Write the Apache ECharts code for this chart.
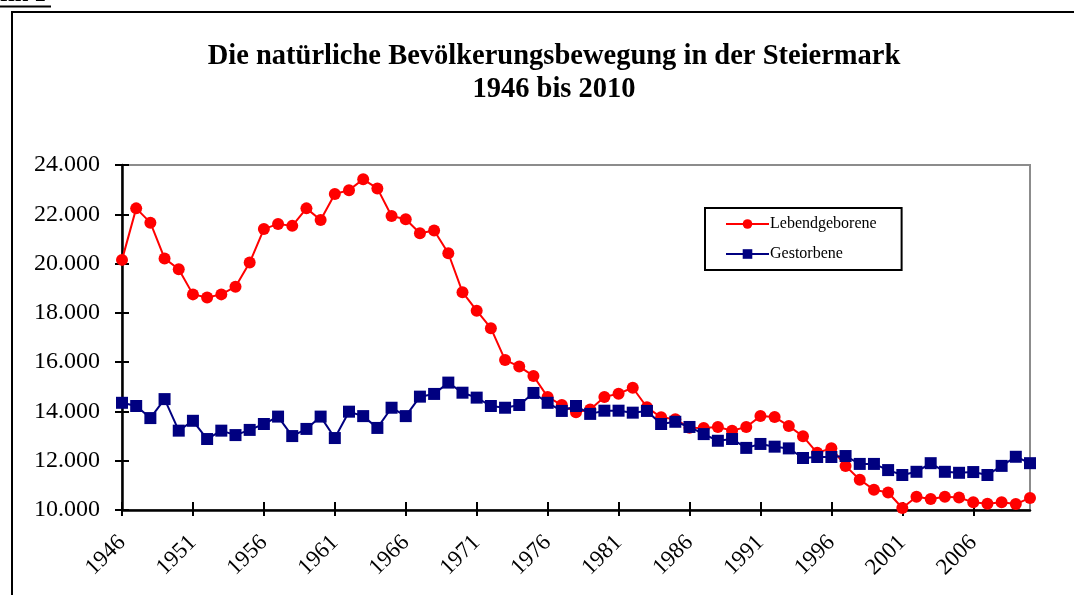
<!DOCTYPE html>
<html>
<head>
<meta charset="utf-8">
<script src="https://cdn.jsdelivr.net/npm/echarts@6/dist/echarts.min.js"></script>
<style>
html,body{margin:0;padding:0;background:#fff;}
#chart{width:1074px;height:595px;}
</style>
</head>
<body>
<div id="chart"></div>
<script>
var years = [];
for (var y = 1946; y <= 2010; y++) years.push(String(y));

var lebendgeborene = [
  20150, 22240, 21660, 20210, 19770, 18750, 18620, 18750, 19060, 20040,
  21400, 21610, 21530, 22240, 21770, 22820, 22980, 23420, 23050, 21930,
  21800, 21230, 21340, 20420, 18840, 18090, 17380, 16090, 15820, 15440,
  14590, 14260, 13970, 14080, 14590, 14720, 14960, 14170, 13760, 13680,
  13340, 13330, 13370, 13220, 13370, 13810, 13770, 13410, 12990, 12320,
  12510, 11790, 11230, 10820, 10710, 10080, 10540, 10450, 10540, 10510,
  10310, 10250, 10310, 10240, 10490
];

var gestorbene = [
  14350, 14220, 13730, 14500, 13220, 13620, 12880, 13220, 13040, 13250,
  13490, 13790, 13000, 13290, 13790, 12920, 13990, 13810, 13330, 14150,
  13810, 14600, 14710, 15170, 14760, 14560, 14220, 14150, 14260, 14750,
  14350, 14020, 14220, 13900, 14030, 14030, 13950, 14020, 13490, 13580,
  13370, 13080, 12810, 12880, 12520, 12680, 12570, 12500, 12110, 12150,
  12150, 12190, 11870, 11870, 11620, 11420, 11550, 11900, 11550, 11510,
  11540, 11420, 11790, 12160, 11900
];

var seriesNames = ['Lebendgeborene', 'Gestorbene'];
var titleLines = ['Die natürliche Bevölkerungsbewegung in der Steiermark', '1946 bis 2010'];

var serif = '"Liberation Serif", "DejaVu Serif", serif';
var chart = echarts.init(document.getElementById('chart'));

var option = {
  backgroundColor: '#ffffff',
  animation: false,
  title: {
    text: titleLines.join('\n'),
    left: 549,
    textAlign: 'center',
    top: 35,
    textStyle: {
      fontFamily: serif,
      fontWeight: 'bold',
      fontSize: 28.5,
      lineHeight: 33,
      color: '#000'
    }
  },
  graphic: [
    {
      type: 'rect',
      shape: { x: 12, y: 12, width: 1200, height: 800 },
      style: { fill: 'none', stroke: '#000', lineWidth: 2 },
      z: 0, silent: true
    },
    {
      type: 'text',
      x: 46, y: 7,
      style: {
        text: 'Grafik 1',
        font: 'bold 24px ' + serif,
        fill: '#000',
        textAlign: 'right',
        textVerticalAlign: 'bottom'
      }
    },
    {
      type: 'line',
      shape: { x1: 0, y1: 6.5, x2: 51, y2: 6.5 },
      style: { stroke: '#000', lineWidth: 2 }
    }
  ],
  legend: {
    orient: 'vertical',
    left: 705,
    top: 208,
    data: seriesNames,
    padding: [8, 25, 8, 20],
    itemGap: 14,
    itemWidth: 43,
    itemHeight: 12,
    borderColor: '#000',
    borderWidth: 2,
    backgroundColor: '#fff',
    textStyle: { fontFamily: serif, fontSize: 16, color: '#000', padding: [0, 0, 0, -4] }
  },
  grid: {
    left: 122,
    right: 44,
    top: 165,
    bottom: 85,
    show: true,
    borderColor: '#8c8c8c',
    borderWidth: 2,
    backgroundColor: 'transparent'
  },
  xAxis: [
    {
      type: 'category',
      data: years,
      boundaryGap: false,
      axisLine: { lineStyle: { color: '#000', width: 2.5 } },
      axisTick: { show: true, interval: 4, length: 6, lineStyle: { color: '#000', width: 2 } },
      axisLabel: {
        interval: 4,
        rotate: 45,
        margin: 29,
        fontFamily: serif,
        fontSize: 23,
        color: '#000'
      },
      splitLine: { show: false }
    },
    {
      type: 'category',
      data: years,
      boundaryGap: false,
      position: 'bottom',
      axisLine: { show: false },
      axisTick: { show: true, inside: true, interval: 4, length: 8, lineStyle: { color: '#000', width: 2 } },
      axisLabel: { show: false },
      splitLine: { show: false }
    }
  ],
  yAxis: [
    {
      type: 'value',
      min: 10000,
      max: 24000,
      interval: 2000,
      axisLine: { show: true, lineStyle: { color: '#000', width: 2.5 } },
      axisTick: { show: true, length: 7, lineStyle: { color: '#000', width: 2 } },
      axisLabel: {
        margin: 22,
        fontFamily: serif,
        fontSize: 24,
        color: '#000',
        formatter: function (v) { return (v / 1000).toFixed(3); }
      },
      splitLine: { show: false }
    },
    {
      type: 'value',
      min: 10000,
      max: 24000,
      interval: 2000,
      position: 'left',
      axisLine: { show: false },
      axisTick: { show: true, inside: true, length: 7, lineStyle: { color: '#000', width: 2 } },
      axisLabel: { show: false },
      splitLine: { show: false }
    }
  ],
  series: [
    {
      name: seriesNames[0],
      type: 'line',
      data: lebendgeborene,
      symbol: 'circle',
      symbolSize: 12,
      showAllSymbol: true,
      itemStyle: { color: '#ff0000' },
      lineStyle: { color: '#ff0000', width: 2 },
      z: 3
    },
    {
      name: seriesNames[1],
      type: 'line',
      data: gestorbene,
      symbol: 'rect',
      symbolSize: 12,
      showAllSymbol: true,
      itemStyle: { color: '#000080' },
      lineStyle: { color: '#000080', width: 2 },
      z: 4
    }
  ]
};
chart.setOption(option);
</script>
</body>
</html>
